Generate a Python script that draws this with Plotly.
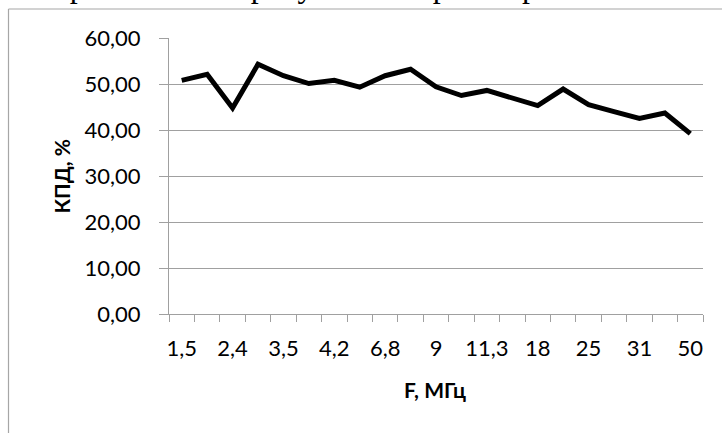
import plotly.graph_objects as go

# Frequency points (MHz) and efficiency values (%)
freq_labels = ["1,5", "2", "2,4", "3", "3,5", "4", "4,2", "5", "6,8", "8", "9",
               "10", "11,3", "14", "18", "21", "25", "28", "31", "40", "50"]
efficiency = [50.8, 52.1, 44.8, 54.3, 51.8, 50.1, 50.8, 49.3, 51.8, 53.2, 49.4,
              47.5, 48.6, 47.0, 45.3, 48.9, 45.5, 44.0, 42.5, 43.7, 39.2]
y_ticks = [0, 10, 20, 30, 40, 50, 60]

x_title = "F, МГц"
y_title = "КПД, %"
page_text = "изображенной на рисунке 4.5 при напряжении питания"

W, H = 722, 433
L, R, T, B = 169, 19, 38, 119
GRID = "#a0a0a0"
FONT = "Lato, 'Open Sans', sans-serif"


def px(x):
    return (x - L) / (W - L - R)


def py(y):
    return (H - B - y) / (H - T - B)


fig = go.Figure()
fig.add_trace(go.Scatter(
    x=freq_labels, y=efficiency, mode="lines",
    line=dict(color="black", width=5),
    hoverinfo="skip", showlegend=False,
))

fig.update_layout(
    width=W, height=H,
    margin=dict(l=L, r=R, t=T, b=B, pad=0),
    paper_bgcolor="white", plot_bgcolor="white",
    separators=", ",
    font=dict(family=FONT, size=22, color="black"),
    xaxis=dict(
        type="category", range=[-0.5, len(freq_labels) - 0.5],
        tickmode="array", tickvals=freq_labels,
        ticktext=[t if i % 2 == 0 else "" for i, t in enumerate(freq_labels)],
        tickangle=0,
        tickson="boundaries", ticks="outside", ticklen=7, tickcolor=GRID,
        tickwidth=1, showline=True, linecolor=GRID, linewidth=1,
        showgrid=False, ticklabelstandoff=15, fixedrange=True,
    ),
    yaxis=dict(
        range=[0, 60], tickmode="array", tickvals=y_ticks, tickformat=".2f",
        ticks="outside", ticklen=9, tickcolor=GRID, tickwidth=1,
        showline=True, linecolor=GRID, linewidth=1,
        showgrid=True, gridcolor=GRID, gridwidth=1, zeroline=False,
        ticklabelstandoff=14, fixedrange=True,
    ),
    annotations=[
        dict(text="<b>" + y_title + "</b>", textangle=-90,
             xref="paper", yref="paper", x=px(61), y=py(176.5),
             xanchor="center", yanchor="middle", showarrow=False,
             font=dict(family=FONT, size=21, color="black")),
        dict(text="<b>" + x_title + "</b>",
             xref="paper", yref="paper", x=px(435), y=py(390),
             xanchor="center", yanchor="middle", showarrow=False,
             font=dict(family=FONT, size=21, color="black")),
        dict(text=page_text,
             xref="paper", yref="paper", x=px(6), y=py(-14),
             xanchor="left", yanchor="middle", showarrow=False,
             font=dict(family="Liberation Serif, serif", size=32, color="black")),
    ],
    shapes=[
        dict(type="line", xref="paper", yref="paper",
             x0=px(8.5), x1=px(8.5), y0=py(9), y1=py(H + 5),
             line=dict(color="#a6a6a6", width=1.2)),
        dict(type="line", xref="paper", yref="paper",
             x0=px(8.5), x1=px(W + 5), y0=py(9), y1=py(9),
             line=dict(color="#a6a6a6", width=1.2)),
    ],
)

fig.write_html("out.html", config=dict(displayModeBar=False))
